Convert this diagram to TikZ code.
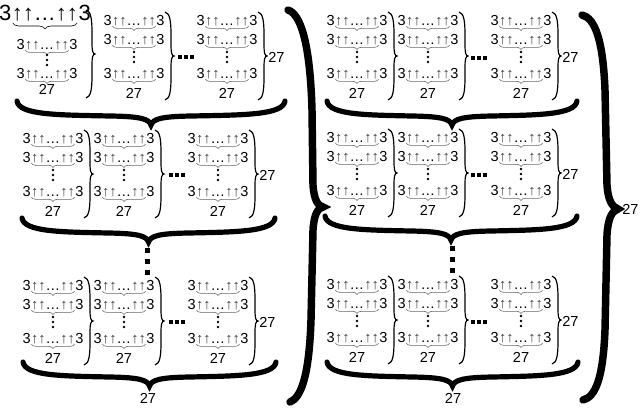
\documentclass[tikz,border=0pt]{standalone}
\usepackage{fontspec}
\setmainfont{Liberation Sans}
\usetikzlibrary{decorations.pathreplacing,calc}

\newcommand{\ups}{{\color{black!75}↑↑}…{\color{black!75}↑↑}}

% thin column brace: left x, top y, bottom y
\newcommand{\colbr}[3]{%
  \draw[colbrace] (#1,#2) .. controls ({#1+5},{#2+1}) and ({#1+6},{#2+10}) .. ({#1+6},{#2+22})
    -- ({#1+6},{(#2+#3)/2-10}) .. controls ({#1+6},{(#2+#3)/2-3}) and ({#1+7},{(#2+#3)/2}) .. ({#1+9},{(#2+#3)/2})
    .. controls ({#1+7},{(#2+#3)/2}) and ({#1+6},{(#2+#3)/2+3}) .. ({#1+6},{(#2+#3)/2+10})
    -- ({#1+6},{#3-22}) .. controls ({#1+6},{#3-10}) and ({#1+5},{#3-1}) .. (#1,#3);}

% thick row brace: left x, right x, y of the ends
\newcommand{\rowbr}[3]{%
  \draw[rowbrace] (#1,#3) .. controls ({#1+2},{#3+14}) and ({#1+40},{#3+14}) .. ({(#1+#2)/2-40},{#3+15})
    .. controls ({(#1+#2)/2-10},{#3+15.5}) and ({(#1+#2)/2-2},{#3+18}) .. ({(#1+#2)/2},{#3+24})
    .. controls ({(#1+#2)/2+2},{#3+18}) and ({(#1+#2)/2+10},{#3+15.5}) .. ({(#1+#2)/2+40},{#3+15})
    .. controls ({#2-40},{#3+14}) and ({#2-2},{#3+14}) .. (#2,#3);}

\tikzset{
  txt/.style={inner sep=0pt, font=\fontsize{10.9}{13}\selectfont},
  bigtxt/.style={inner sep=0pt, font=\fontsize{16.5}{19}\selectfont},
  ubrace/.style={draw=black!60, line width=0.45pt, decorate, decoration={brace, amplitude=3.2pt}},
  colbrace/.style={line width=0.9pt},
  rowbrace/.style={line width=3.9pt, line cap=round},
  bigbrace/.style={line width=5.6pt, line cap=round},
  dotline/.style={line width=3.75pt, dash pattern=on 3.75pt off 4.5pt},
  pics/arrline/.style={code={
    \node[txt, anchor=base] (-a) at (0,5.2) {\ups};
    \node[txt, anchor=base east] (-l) at (-a.base west) {3};
    \node[txt, anchor=base west] (-r) at (-a.base east) {3};
    \draw[ubrace] ($(-a.base east)+(-0.5,1)$) -- ($(-a.base west)+(0.5,1)$);
  }},
  pics/bigline/.style={code={
    \node[bigtxt, anchor=base] (-a) at (0,8) {↑↑…↑↑};
    \node[bigtxt, anchor=base east] (-l) at (-a.base west) {3};
    \node[bigtxt, anchor=base west] (-r) at (-a.base east) {3};
    \draw[ubrace, draw=black, decoration={brace, amplitude=4.5pt}] ($(-a.base east)+(-1,3)$) -- ($(-a.base west)+(1,3)$);
  }},
  pics/tower/.style={code={
    \pic (-t) at (0,0) {arrline};
    \pic (-m) at (0,19) {arrline};
    \pic (-b) at (0,53) {arrline};
    \foreach \d in {32,37,42} \fill (0,\d) circle (1pt);
    \node[txt] (-n) at (0,73) {27};
    \colbr{31}{-8}{80}
  }},
  pics/hdots/.style={code={
    \foreach \d in {-6,0,6} \fill ({\d-1.75},-1.75) rectangle ++(3.5,3.5);
  }},
}

\begin{document}
\begin{tikzpicture}[x=0.75pt, y=-0.75pt]
\useasboundingbox (0,0) rectangle (640,408);

% Left half, first row
\pic (L1c1t) at (45,12) {bigline};
\pic (L1c1m) at (47,44) {arrline};
\pic (L1c1b) at (47,73) {arrline};
\foreach \d in {55,60,65} \fill (47,\d) circle (1pt);
\node[txt] (L1c1n) at (47,89) {27};
\colbr{86}{10}{98}
\pic (L1c2) at (134,20) {tower};
\pic at (186,57) {hdots};
\pic (L1c3) at (227,20) {tower};
\node[txt, anchor=west] (L1n) at (268,57) {27};
\rowbr{17}{285}{101}

% Left half, rows 2 and 3
\foreach \y [count=\r from 2] in {138,285} {
  \foreach \x [count=\c] in {53,124,218}
    \pic (L\r c\c) at (\x,\y) {tower};
  \pic at (177,{\y+37}) {hdots};
  \node[txt, anchor=west] (L\r n) at (259,{\y+37}) {27};
}
\rowbr{22}{275}{218}
\rowbr{23}{276}{362}
\node[txt] (Lsum) at (148,398) {27};

% Right half
\foreach \y [count=\r] in {20,137,284} {
  \foreach \x [count=\c] in {357,428,521}
    \pic (R\r c\c) at (\x,\y) {tower};
  \pic at (479,{\y+38}) {hdots};
  \node[txt, anchor=west] (R\r n) at (562,{\y+37}) {27};
}
\rowbr{327}{577}{101}
\rowbr{325}{577}{216}
\rowbr{327}{578}{362}
\node[txt] (Rsum) at (453,398) {27};

% Vertical dots between rows
\coordinate (Ltip) at (147,247.5);
\coordinate (Lrow) at (147,274.5);
\coordinate (Rtip) at (452,245.5);
\coordinate (Rrow) at (452,272.5);
\draw[dotline] (Ltip) -- (Lrow);
\draw[dotline] (Rtip) -- (Rrow);

% Big braces
\draw[bigbrace] (288,10) .. controls (300,14) and (310,40) .. (312,110) -- (313,185)
  .. controls (314,200) and (318,206) .. (323,207) .. controls (318,208) and (314,214) .. (313,230)
  -- (311,320) .. controls (309,380) and (300,398) .. (290,402);
\draw[bigbrace] (582,15) .. controls (595,18) and (603,40) .. (605,90) -- (607,185)
  .. controls (608,200) and (612,207) .. (618,209) .. controls (612,211) and (608,218) .. (607,235)
  -- (605,330) .. controls (603,380) and (595,397) .. (583,400);
\node[txt, anchor=west] (total) at (622,209) {27};

\end{tikzpicture}
\end{document}
